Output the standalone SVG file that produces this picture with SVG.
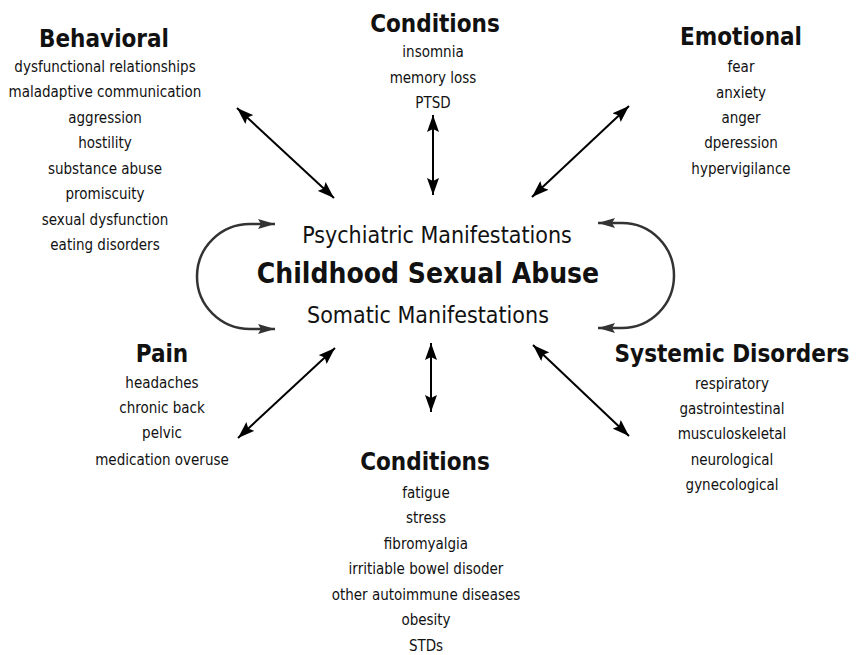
<svg xmlns="http://www.w3.org/2000/svg" width="857" height="655" viewBox="0 0 857 655">
<defs>
<style>
text{font-family:"DejaVu Sans Condensed","DejaVu Sans","Liberation Sans Narrow",sans-serif;fill:#111;text-anchor:middle}
.h{font-weight:bold;font-size:24px}
.i{font-size:15px}
.c{font-size:23px}
.m{font-weight:bold;font-size:28px}
.ar{stroke:#000;stroke-width:2;fill:none}
.cv{stroke:#333;stroke-width:2.5;fill:none}
</style>
<marker id="ah" markerUnits="userSpaceOnUse" markerWidth="18" markerHeight="12" viewBox="0 0 18 12" refX="17" refY="6" orient="auto-start-reverse">
<path d="M0 0 L17 6 L0 12 L3 6 Z" fill="#000"/>
</marker>
<marker id="ch" markerUnits="userSpaceOnUse" markerWidth="18" markerHeight="12" viewBox="0 0 18 12" refX="17" refY="6" orient="auto-start-reverse">
<path d="M0 1 L17 6 L0 11 L3 6 Z" fill="#333"/>
</marker>
</defs>
<g id="connectors">
<line class="ar" x1="237" y1="108" x2="334" y2="198" marker-start="url(#ah)" marker-end="url(#ah)"/>
<line class="ar" x1="433" y1="115" x2="433" y2="195" marker-start="url(#ah)" marker-end="url(#ah)"/>
<line class="ar" x1="629" y1="106" x2="532" y2="197" marker-start="url(#ah)" marker-end="url(#ah)"/>
<line class="ar" x1="335" y1="348" x2="238" y2="438" marker-start="url(#ah)" marker-end="url(#ah)"/>
<line class="ar" x1="431" y1="343" x2="431" y2="412" marker-start="url(#ah)" marker-end="url(#ah)"/>
<line class="ar" x1="533" y1="345" x2="629" y2="436" marker-start="url(#ah)" marker-end="url(#ah)"/>
<path class="cv" d="M275 224 L250 224 A53 52.5 0 0 0 250 329 L275 329" marker-start="url(#ch)" marker-end="url(#ch)"/>
<path class="cv" d="M598 223 L622 223 A52 52.5 0 0 1 622 328 L598 328" marker-start="url(#ch)" marker-end="url(#ch)"/>
</g>
<g id="center">
<text class="c" x="437" y="243">Psychiatric Manifestations</text>
<text class="m" x="428" y="283">Childhood Sexual Abuse</text>
<text class="c" x="428" y="323">Somatic Manifestations</text>
</g>
<g id="behavioral">
<text class="h" x="104" y="47">Behavioral</text>
<text class="i" x="105" y="72">dysfunctional relationships</text>
<text class="i" x="105" y="97">maladaptive communication</text>
<text class="i" x="105" y="123">aggression</text>
<text class="i" x="105" y="148">hostility</text>
<text class="i" x="105" y="174">substance abuse</text>
<text class="i" x="105" y="199">promiscuity</text>
<text class="i" x="105" y="225">sexual dysfunction</text>
<text class="i" x="105" y="250">eating disorders</text>
</g>
<g id="conditions-top">
<text class="h" x="435" y="32">Conditions</text>
<text class="i" x="433" y="57">insomnia</text>
<text class="i" x="433" y="83">memory loss</text>
<text class="i" x="433" y="108">PTSD</text>
</g>
<g id="emotional">
<text class="h" x="741" y="45">Emotional</text>
<text class="i" x="741" y="72">fear</text>
<text class="i" x="741" y="98">anxiety</text>
<text class="i" x="741" y="123">anger</text>
<text class="i" x="741" y="148">dperession</text>
<text class="i" x="741" y="174">hypervigilance</text>
</g>
<g id="pain">
<text class="h" x="162" y="362">Pain</text>
<text class="i" x="162" y="388">headaches</text>
<text class="i" x="162" y="413">chronic back</text>
<text class="i" x="162" y="438">pelvic</text>
<text class="i" x="162" y="465">medication overuse</text>
</g>
<g id="systemic">
<text class="h" x="732" y="362">Systemic Disorders</text>
<text class="i" x="732" y="389">respiratory</text>
<text class="i" x="732" y="414">gastrointestinal</text>
<text class="i" x="732" y="439">musculoskeletal</text>
<text class="i" x="732" y="465">neurological</text>
<text class="i" x="732" y="490">gynecological</text>
</g>
<g id="conditions-bottom">
<text class="h" x="425" y="470">Conditions</text>
<text class="i" x="426" y="498">fatigue</text>
<text class="i" x="426" y="523">stress</text>
<text class="i" x="426" y="549">fibromyalgia</text>
<text class="i" x="426" y="574">irritiable bowel disoder</text>
<text class="i" x="426" y="600">other autoimmune diseases</text>
<text class="i" x="426" y="625">obesity</text>
<text class="i" x="426" y="651">STDs</text>
</g>
</svg>
